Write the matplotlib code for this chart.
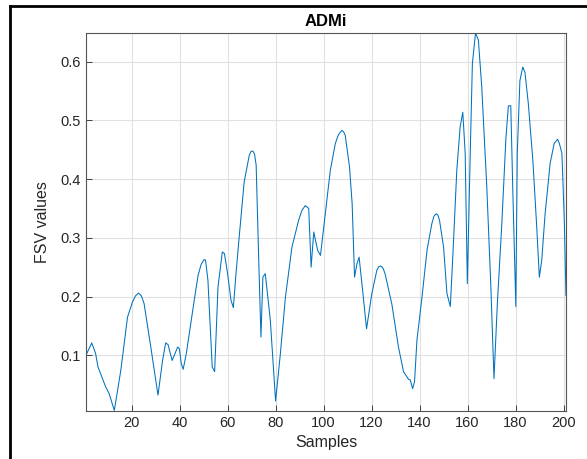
import matplotlib.pyplot as plt
from matplotlib.lines import Line2D

# Curve (sample index, FSV value)
samples = [1, 3.4, 5, 6, 9.2, 10.6, 12.8, 15.5, 18.3, 20.4, 21.6, 22.9, 24.1, 25.2,
           28, 31, 32.9, 34.2, 35.2, 36.9, 39.2, 39.9, 40.7, 41.5, 42.8, 46.3, 47.7,
           49, 50.2, 50.8, 51.8, 53.6, 54.6, 56, 57.8, 58.7, 60, 61.4, 62.4, 63.5,
           64.8, 66.9, 69, 69.7, 70.5, 71.2, 71.9, 72.9, 73.9, 74.7, 75.7, 77.8, 80,
           82, 84.1, 86.8, 89.6, 91, 92.4, 93.8, 94.8, 95.9, 97.5, 98.7, 100.7,
           102.8, 104.9, 106.2, 107.6, 108.3, 109, 110.8, 111.9, 112.9, 113.9,
           114.8, 116.4, 117.9, 120.1, 122.2, 123, 123.9, 124.8, 125.6, 128.4,
           131.2, 133.3, 135.4, 136.1, 137.1, 137.9, 138.9, 141, 143.1, 145.1, 146,
           146.9, 147.6, 148.3, 150, 151.4, 152.8, 153.9, 155.5, 156.9, 158, 159,
           159.9, 161.1, 162, 163.3, 164.5, 165.9, 168, 169.7, 171, 172.4, 174.2,
           176, 177, 178, 178.8, 180.1, 180.7, 181.8, 183, 183.9, 185.3, 187.2,
           188.8, 189.9, 190.9, 192.3, 194.4, 196.1, 197.5, 198.3, 199.3, 200.3, 201]
fsv = [0.100, 0.121, 0.103, 0.080, 0.046, 0.035, 0.006, 0.074, 0.165, 0.191, 0.201,
       0.206, 0.201, 0.188, 0.114, 0.032, 0.091, 0.121, 0.118, 0.091, 0.114, 0.111,
       0.086, 0.076, 0.103, 0.199, 0.236, 0.255, 0.263, 0.262, 0.228, 0.080, 0.072,
       0.216, 0.276, 0.273, 0.239, 0.194, 0.181, 0.239, 0.300, 0.395, 0.440, 0.447,
       0.448, 0.443, 0.424, 0.273, 0.131, 0.233, 0.239, 0.160, 0.022, 0.103, 0.199,
       0.284, 0.330, 0.347, 0.355, 0.350, 0.250, 0.310, 0.279, 0.270, 0.341, 0.415,
       0.461, 0.476, 0.483, 0.481, 0.475, 0.421, 0.358, 0.233, 0.256, 0.267, 0.205,
       0.145, 0.205, 0.245, 0.251, 0.252, 0.248, 0.239, 0.188, 0.114, 0.072, 0.059,
       0.058, 0.043, 0.055, 0.126, 0.199, 0.279, 0.324, 0.337, 0.341, 0.339, 0.330,
       0.284, 0.205, 0.183, 0.273, 0.415, 0.489, 0.514, 0.444, 0.222, 0.444, 0.597,
       0.649, 0.637, 0.557, 0.387, 0.216, 0.060, 0.188, 0.319, 0.472, 0.525, 0.525,
       0.387, 0.183, 0.444, 0.568, 0.591, 0.582, 0.529, 0.432, 0.319, 0.233, 0.262,
       0.341, 0.427, 0.461, 0.468, 0.460, 0.444, 0.330, 0.202]

xticks = [20, 40, 60, 80, 100, 120, 140, 160, 180, 200]
yticks = [0.1, 0.2, 0.3, 0.4, 0.5, 0.6]

plt.rcParams['font.family'] = ['Liberation Sans', 'DejaVu Sans']

fig = plt.figure(figsize=(5.87, 4.59), dpi=100)
ax = fig.add_axes([0.1465, 0.1046, 0.8177, 0.8235])

ax.plot(samples, fsv, color='#0072BD', linewidth=0.75)

ax.set_xlim(1, 201)
ax.set_ylim(0.005, 0.649)
ax.set_xticks(xticks)
ax.set_yticks(yticks)
ax.set_yticklabels([f'{v:.1f}' for v in yticks])
ax.grid(True, color='#e0e0e0', linewidth=0.8)
ax.set_axisbelow(True)
ax.tick_params(direction='in', length=4, colors='#262626', labelsize=10.5, width=0.6)
for s in ax.spines.values():
    s.set_color('#555555')
    s.set_linewidth(0.8)

ax.set_title('ADMi', fontsize=12, fontweight='bold', pad=5)
ax.set_xlabel('Samples', fontsize=11.5, color='#262626', labelpad=4)
ax.set_ylabel('FSV values', fontsize=11.5, color='#262626', labelpad=8)

# black frame of the screenshot (top and left edges)
fig.add_artist(Line2D([9.5 / 587, 9.5 / 587], [0, 1 - 5.5 / 459],
                      transform=fig.transFigure, color='black', linewidth=2))
fig.add_artist(Line2D([9.5 / 587, 1], [1 - 5.5 / 459, 1 - 5.5 / 459],
                      transform=fig.transFigure, color='black', linewidth=2))

fig.savefig('out.png', dpi=100)
